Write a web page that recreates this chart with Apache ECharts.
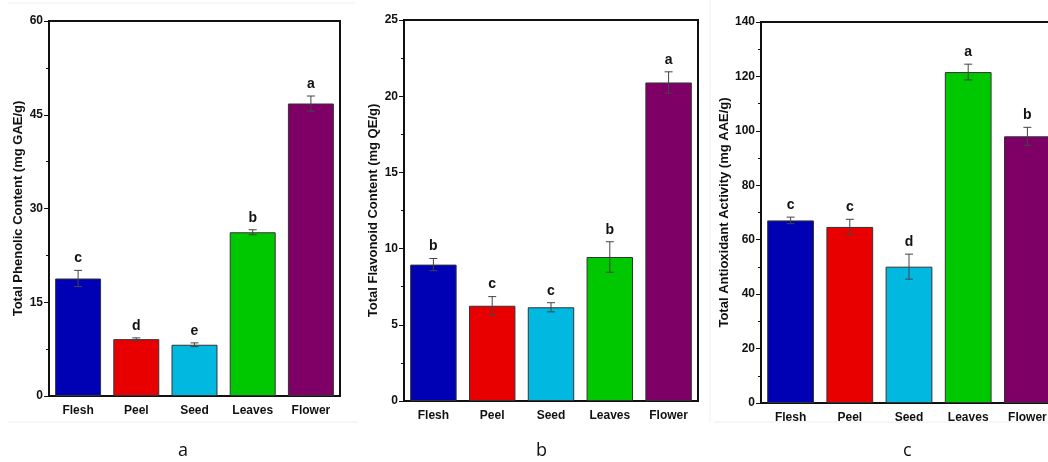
<!DOCTYPE html>
<html>
<head>
<meta charset="utf-8">
<script src="https://cdn.jsdelivr.net/npm/echarts@6/dist/echarts.min.js"></script>
<style>
html,body{margin:0;padding:0;background:#fff;overflow:hidden;width:1048px;height:462px;}
#chart{width:1064px;height:462px;}
</style>
</head>
<body>
<div id="chart"></div>
<script>
var categories = ['Flesh', 'Peel', 'Seed', 'Leaves', 'Flower'];

var phenolic = [18.8, 9.1, 8.2, 26.2, 46.8];
var phenolicErr = [1.3, 0.2, 0.3, 0.4, 1.2];
var phenolicLetters = ['c', 'd', 'e', 'b', 'a'];

var flavonoid = [8.95, 6.25, 6.15, 9.45, 20.9];
var flavonoidErr = [0.4, 0.6, 0.3, 1.0, 0.7];
var flavonoidLetters = ['b', 'c', 'c', 'b', 'a'];

var antioxidant = [67.1, 64.7, 50.1, 121.6, 98.0];
var antioxidantErr = [1.2, 2.8, 4.6, 2.9, 3.3];
var antioxidantLetters = ['c', 'c', 'd', 'a', 'b'];

var yTicksA = {min: 0, max: 60, interval: 15};
var yTicksB = {min: 0, max: 25, interval: 5};
var yTicksC = {min: 0, max: 140, interval: 20};

var barColors = ['#0000b4', '#e80000', '#00b8e0', '#00c800', '#7e0066'];
var panelLabels = ['a', 'b', 'c'];

var FONT = '"Liberation Sans", Arial, sans-serif';

var chart = echarts.init(document.getElementById('chart'), null, {renderer: 'canvas'});

var grids = [
  {left: 49, top: 21, width: 291, height: 375},
  {left: 404, top: 20, width: 294, height: 381},
  {left: 761, top: 22, width: 296, height: 381}
];

function gridOpt(g) {
  return Object.assign({show: true, borderColor: '#111', borderWidth: 2, backgroundColor: 'transparent', containLabel: false}, g);
}

function xAxisMain(i) {
  return {
    type: 'category', gridIndex: i, data: categories,
    axisLine: {lineStyle: {color: '#111', width: 2}},
    axisTick: {alignWithLabel: true, length: 5, lineStyle: {color: '#111', width: 1}},
    axisLabel: {color: '#111', fontFamily: FONT, fontWeight: 'bold', fontSize: 12, margin: 9},
    splitLine: {show: false}
  };
}
function xAxisBoundary(i) {
  return {
    type: 'category', gridIndex: i, data: categories, position: 'bottom',
    axisLine: {show: false},
    axisTick: {alignWithLabel: false, length: 3, lineStyle: {color: '#111', width: 1}},
    axisLabel: {show: false},
    splitLine: {show: false}
  };
}
function yAxis(i, t, name, gap) {
  return {
    type: 'value', gridIndex: i, min: t.min, max: t.max, interval: t.interval,
    name: name, nameLocation: 'middle', nameGap: gap,
    nameTextStyle: {color: '#111', fontFamily: FONT, fontWeight: 'bold', fontSize: 13},
    axisLine: {show: true, lineStyle: {color: '#111', width: 2}},
    axisTick: {show: true, length: 5, lineStyle: {color: '#111', width: 1}},
    minorTick: {show: true, splitNumber: 2, length: 3, lineStyle: {color: '#111', width: 1}},
    axisLabel: {color: '#111', fontFamily: FONT, fontWeight: 'bold', fontSize: 12, margin: 6},
    splitLine: {show: false}
  };
}

function barSeries(i, values) {
  return {
    type: 'bar', xAxisIndex: i * 2, yAxisIndex: i, barWidth: '79%',
    data: values.map(function (v, k) {
      return {value: v, itemStyle: {color: barColors[k]}};
    }),
    itemStyle: {borderColor: '#333', borderWidth: 1},
    silent: true
  };
}

function errSeries(i, values, errs, letters) {
  return {
    type: 'custom', xAxisIndex: i * 2, yAxisIndex: i, silent: true, z: 5,
    data: values.map(function (v, k) { return [k, v, errs[k]]; }),
    renderItem: function (params, api) {
      var x = api.value(0), v = api.value(1), e = api.value(2);
      var top = api.coord([x, v + e]);
      var bot = api.coord([x, v - e]);
      var cap = 4;
      var st = {stroke: '#444', lineWidth: 1};
      return {
        type: 'group',
        children: [
          {type: 'line', shape: {x1: top[0], y1: top[1], x2: bot[0], y2: bot[1]}, style: st},
          {type: 'line', shape: {x1: top[0] - cap, y1: top[1], x2: top[0] + cap, y2: top[1]}, style: st},
          {type: 'line', shape: {x1: bot[0] - cap, y1: bot[1], x2: bot[0] + cap, y2: bot[1]}, style: st},
          {type: 'text', style: {
            x: top[0], y: top[1] - 5, text: letters[params.dataIndex],
            fill: '#111', font: 'bold 14px ' + FONT, textAlign: 'center', textVerticalAlign: 'bottom'
          }}
        ]
      };
    }
  };
}

var option = {
  backgroundColor: '#fff',
  animation: false,
  grid: grids.map(gridOpt),
  xAxis: [xAxisMain(0), xAxisBoundary(0), xAxisMain(1), xAxisBoundary(1), xAxisMain(2), xAxisBoundary(2)],
  yAxis: [
    yAxis(0, yTicksA, 'Total Phenolic Content (mg GAE/g)', 24),
    yAxis(1, yTicksB, 'Total Flavonoid Content (mg QE/g)', 24),
    yAxis(2, yTicksC, 'Total Antioxidant Activity (mg AAE/g)', 30)
  ],
  series: [
    barSeries(0, phenolic), errSeries(0, phenolic, phenolicErr, phenolicLetters),
    barSeries(1, flavonoid), errSeries(1, flavonoid, flavonoidErr, flavonoidLetters),
    barSeries(2, antioxidant), errSeries(2, antioxidant, antioxidantErr, antioxidantLetters)
  ],
  graphic: [
    {type: 'line', silent: true, shape: {x1: 8, y1: 3, x2: 355, y2: 3}, style: {stroke: '#eeeeee', lineWidth: 1}},
    {type: 'line', silent: true, shape: {x1: 8, y1: 422, x2: 358, y2: 422}, style: {stroke: '#eeeeee', lineWidth: 1}},
    {type: 'line', silent: true, shape: {x1: 710, y1: 0, x2: 710, y2: 422}, style: {stroke: '#f0f0f0', lineWidth: 1}},
    {type: 'line', silent: true, shape: {x1: 714, y1: 422, x2: 1048, y2: 422}, style: {stroke: '#eeeeee', lineWidth: 1}},
    {type: 'text', silent: true, left: 178, top: 442, style: {text: panelLabels[0], font: '18px "Open Sans", sans-serif', fill: '#111'}},
    {type: 'text', silent: true, left: 536, top: 442, style: {text: panelLabels[1], font: '18px "Open Sans", sans-serif', fill: '#111'}},
    {type: 'text', silent: true, left: 903, top: 442, style: {text: panelLabels[2], font: '18px "Open Sans", sans-serif', fill: '#111'}}
  ]
};
chart.setOption(option);
</script>
</body>
</html>
